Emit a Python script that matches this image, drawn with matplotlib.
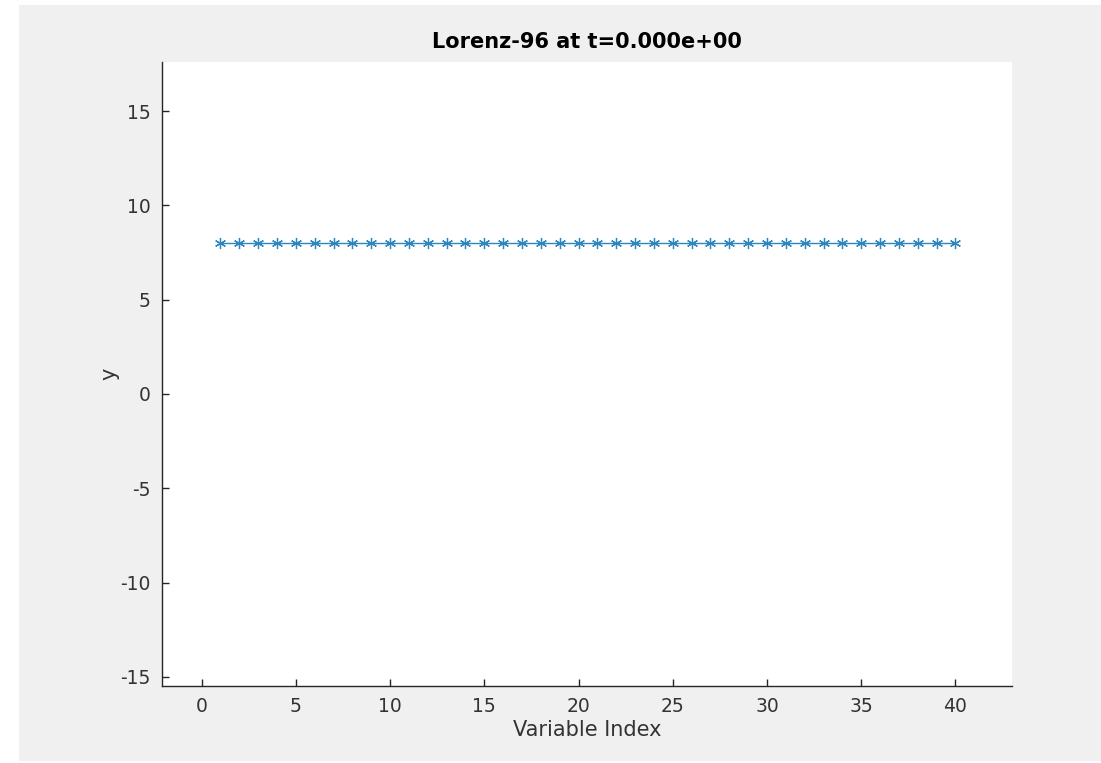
import numpy as np
import matplotlib
matplotlib.use("Agg")
import matplotlib.pyplot as plt
from matplotlib.patches import Rectangle

plt.rcParams["axes.unicode_minus"] = False

# state of the 40 Lorenz-96 variables at t = 0 (all at forcing F = 8)
variable_index = list(range(1, 41))
state_values = [8.0] * 40
x_ticks = [0, 5, 10, 15, 20, 25, 30, 35, 40]
y_ticks = [-15, -10, -5, 0, 5, 10, 15]
title_text = "Lorenz-96 at t=0.000e+00"

fig = plt.figure(figsize=(11.01, 7.63), dpi=100)
fig.patch.set_facecolor("white")

# grey MATLAB-like figure background, with a thin white border at left/top
fig.patches.append(Rectangle((19 / 1101, 2 / 763), 1 - 19 / 1101, 1 - 7 / 763,
                             transform=fig.transFigure, facecolor="#f0f0f0",
                             edgecolor="none", zorder=-5))

ax = fig.add_axes([162 / 1101, 1 - 686 / 763, 850 / 1101, 624 / 763], zorder=1)
ax.set_facecolor("white")

ax.plot(variable_index, state_values, color="#2f86bd", linewidth=1.0,
        marker=(6, 2, 0), markersize=8, markeredgewidth=0.9)

ax.set_xlim(-2.1, 43.0)
ax.set_ylim(-15.48, 17.6)
ax.set_xticks(x_ticks)
ax.set_yticks(y_ticks)

for side in ["top", "right"]:
    ax.spines[side].set_visible(False)
for side in ["left", "bottom"]:
    ax.spines[side].set_color("#262626")
    ax.spines[side].set_linewidth(1.0)

ax.tick_params(direction="in", length=5, width=1.0, colors="#262626",
               labelsize=13.5, pad=8)
for lbl in ax.get_xticklabels() + ax.get_yticklabels():
    lbl.set_color("#333333")

ax.set_xlabel("Variable Index", fontsize=15, color="#333333", labelpad=3)
ax.set_ylabel("y", fontsize=15, color="#333333", labelpad=1)
ax.set_title(title_text, fontsize=15, fontweight="bold", color="black", pad=10)

fig.savefig("out.png", dpi=100, facecolor=fig.get_facecolor())
